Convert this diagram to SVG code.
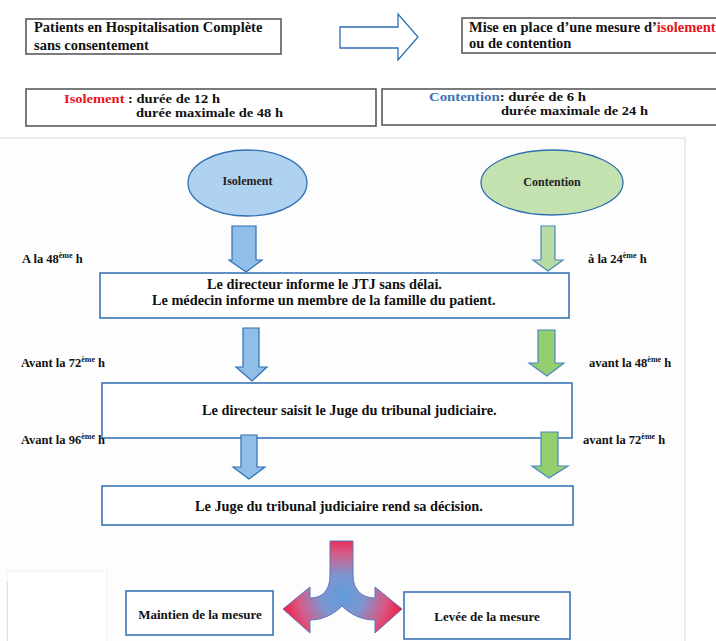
<svg xmlns="http://www.w3.org/2000/svg" width="716" height="641" viewBox="0 0 716 641">
<style>
text{font-family:"Liberation Serif","Times New Roman",serif;font-weight:bold;fill:#111;}
.top{font-size:14.5px;}
.dur{font-size:12.6px;}
.flow{font-size:14.3px;}
.lab{font-size:12.5px;}
.sup{font-size:8px;}
.ell{font-size:12px;fill:#222;}
.res{font-size:13px;}
.gbox{fill:#fff;stroke:#5a5a5a;stroke-width:1.6;}
.bbox{fill:#fff;stroke:#3a76b6;stroke-width:1.6;}
.barrow{fill:#8fbfe9;stroke:#2f6fb3;stroke-width:1.2;}
.garrow{fill:#93cf6f;stroke:#4a86c4;stroke-width:1.2;}
.garrow1{fill:#b9dca2;stroke:#4a86c4;stroke-width:1.2;}
.red{fill:#e8141c;}
.blue{fill:#3f74b2;}
</style>
<defs>
<radialGradient id="split" gradientUnits="userSpaceOnUse" cx="342" cy="596" r="62">
<stop offset="0" stop-color="#5f9ddc"/>
<stop offset="0.35" stop-color="#7e95d0"/>
<stop offset="0.7" stop-color="#d65a86"/>
<stop offset="1" stop-color="#f2153f"/>
</radialGradient>
</defs>

<rect x="0" y="0" width="716" height="641" fill="#fff"/>
<g id="panel">
<rect x="-2" y="138" width="687" height="510" fill="#fdfdfd" stroke="#dadada" stroke-width="1"/>
<rect x="7" y="571" width="100" height="75" fill="#fff" stroke="#f1f1f1" stroke-width="1"/>
<line x1="7.5" y1="582" x2="7.5" y2="641" stroke="#cfe0f0" stroke-width="1"/>
</g>

<g id="patients">
<rect class="gbox" x="26" y="19" width="255" height="35"/>
<text class="top" x="34" y="32">Patients en Hospitalisation Complète</text>
<text class="top" x="34" y="50">sans consentement</text>
</g>

<g id="mise">
<rect class="gbox" x="462" y="18" width="260" height="35"/>
<text class="top" x="469" y="32">Mise en place d’une mesure d’<tspan class="red">isolement</tspan></text>
<text class="top" x="469" y="48">ou de contention</text>
</g>

<g id="duree-isolement">
<rect class="gbox" x="26" y="89" width="350" height="37"/>
<text class="dur" x="64" y="103" textLength="156" lengthAdjust="spacingAndGlyphs"><tspan class="red">Isolement</tspan> : durée de 12 h</text>
<text class="dur" x="136" y="117" textLength="147" lengthAdjust="spacingAndGlyphs">durée maximale de 48 h</text>
</g>

<g id="duree-contention">
<rect class="gbox" x="382" y="89" width="340" height="36"/>
<text class="dur" x="429" y="101" textLength="157" lengthAdjust="spacingAndGlyphs"><tspan class="blue">Contention</tspan>: durée de 6 h</text>
<text class="dur" x="501" y="115" textLength="147" lengthAdjust="spacingAndGlyphs">durée maximale de 24 h</text>
</g>

<g id="ellipse-isolement">
<ellipse cx="247.5" cy="183" rx="59.5" ry="33" fill="#afd2f1" stroke="#2f6fb3" stroke-width="1.3"/>
<text class="ell" x="247.5" y="185" text-anchor="middle">Isolement</text>
</g>

<g id="ellipse-contention">
<ellipse cx="552" cy="182.5" rx="71" ry="32.5" fill="#c3e2b0" stroke="#2f6fb3" stroke-width="1.3"/>
<text class="ell" x="552" y="186" text-anchor="middle">Contention</text>
</g>

<g id="box-informe">
<rect class="bbox" x="100" y="273" width="469" height="45"/>
<text class="flow" x="207" y="289">Le directeur informe le JTJ sans délai.</text>
<text class="flow" x="152" y="305">Le médecin informe un membre de la famille du patient.</text>
</g>

<g id="box-saisit">
<rect class="bbox" x="102" y="383" width="470" height="55"/>
<text class="flow" x="202" y="415">Le directeur saisit le Juge du tribunal judiciaire.</text>
</g>

<g id="box-decision">
<rect class="bbox" x="102" y="486" width="471" height="39"/>
<text class="flow" x="195" y="511">Le Juge du tribunal judiciaire rend sa décision.</text>
</g>

<g id="box-maintien">
<rect class="bbox" x="126" y="591" width="147" height="44"/>
<text class="res" x="200" y="619" text-anchor="middle">Maintien de la mesure</text>
</g>

<g id="box-levee">
<rect class="bbox" x="404" y="592" width="166" height="47"/>
<text class="res" x="487" y="621" text-anchor="middle">Levée de la mesure</text>
</g>

<g id="labels">
<text class="lab" x="22" y="263">A la 48<tspan class="sup" dy="-5">ème</tspan><tspan dy="5"> h</tspan></text>
<text class="lab" x="588" y="263">à la 24<tspan class="sup" dy="-5">ème</tspan><tspan dy="5"> h</tspan></text>
<text class="lab" x="21" y="367">Avant la 72<tspan class="sup" dy="-5">ème</tspan><tspan dy="5"> h</tspan></text>
<text class="lab" x="589" y="367">avant la 48<tspan class="sup" dy="-5">ème</tspan><tspan dy="5"> h</tspan></text>
<text class="lab" x="583" y="444">avant la 72<tspan class="sup" dy="-5">ème</tspan><tspan dy="5"> h</tspan></text>
</g>

<g id="connectors">
<path d="M340,27 L398,27 L398,14 L418,37 L398,60 L398,48 L340,48 Z" fill="#fff" stroke="#2f6fb3" stroke-width="1.3"/>
<path class="barrow" d="M232,226 L256,226 L256,260 L262,260 L246,272 L229,260 L232,260 Z"/>
<path class="barrow" d="M243,328 L259,328 L259,367 L267,367 L252,381 L236,367 L243,367 Z"/>
<path class="barrow" d="M241,435 L257,435 L257,467 L265,467 L249,479 L233,467 L241,467 Z"/>
<path class="garrow1" d="M541,226 L555,226 L555,260 L563,260 L548,271 L533,260 L541,260 Z"/>
<path class="garrow" d="M538,330 L555,330 L555,363 L564,363 L547,376 L529,363 L538,363 Z"/>
<path class="garrow" d="M541,432 L558,432 L558,466 L568,466 L549,478 L532,466 L541,466 Z"/>
<path d="M330,541 L353,541 L353,575 C353,590 362,598 375,598 L375,587 L402,609 L375,633 L375,620 C360,620 349,613 342,606 C335,613 324,620 310,620 L310,633 L283,609 L310,587 L310,598 C323,598 330,590 330,575 Z" fill="url(#split)" stroke="#5a78b8" stroke-width="1"/>
</g>

<g id="label-96">
<text class="lab" x="21" y="444">Avant la 96<tspan class="sup" dy="-5">ème</tspan><tspan dy="5"> h</tspan></text>
</g>
</svg>
